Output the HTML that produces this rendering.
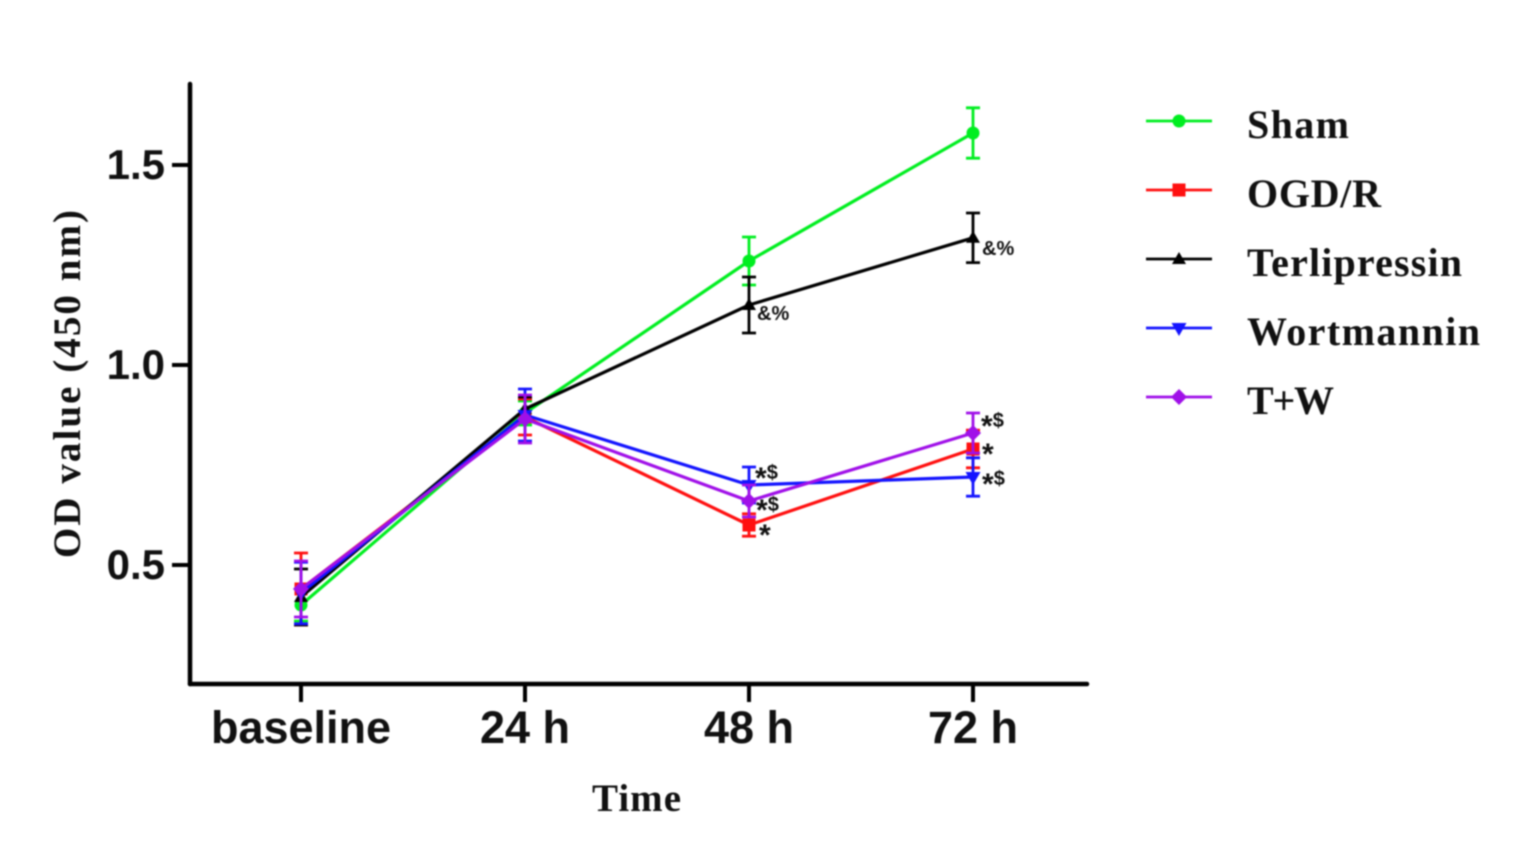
<!DOCTYPE html>
<html lang="en">
<head>
<meta charset="utf-8">
<title>OD value over time</title>
<style>
html,body{margin:0;padding:0;background:#fff;}
body{width:1524px;height:863px;overflow:hidden;}
svg{display:block;filter:blur(0.7px);}
.sans{font-family:"Liberation Sans",sans-serif;font-weight:bold;fill:#111;}
.serif{font-family:"Liberation Serif",serif;font-weight:bold;fill:#111;}
</style>
</head>
<body>
<svg id="chart" width="1524" height="863" viewBox="0 0 1524 863" xmlns="http://www.w3.org/2000/svg">
  <text class="serif" x="592" y="811" font-size="39" textLength="89" lengthAdjust="spacing">Time</text>
  <text class="serif" transform="translate(80,558) rotate(-90)" font-size="39" textLength="348" lengthAdjust="spacing">OD value (450 nm)</text>
  <g id="axes"></g>
  <g id="plot"></g>
  <g id="notes"></g>
  <g id="legend"></g>
</svg>
<script>
const categories = ["baseline", "24 h", "48 h", "72 h"];
const yTicks = [0.5, 1.0, 1.5];
const yTickLabels = ["0.5", "1.0", "1.5"];
const seriesNames = ["Sham", "OGD/R", "Terlipressin", "Wortmannin", "T+W"];

const shamValues = [0.40, 0.88, 1.26, 1.58];
const ogdValues = [0.44, 0.87, 0.60, 0.79];
const terlipressinValues = [0.42, 0.89, 1.15, 1.318];
const wortmanninValues = [0.43, 0.875, 0.70, 0.72];
const twValues = [0.44, 0.865, 0.66, 0.83];

const shamErrors = [0.04, 0.03, 0.06, 0.063];
const ogdErrors = [0.09, 0.045, 0.028, 0.047];
const terlipressinErrors = [0.07, 0.03, 0.07, 0.062];
const wortmanninErrors = [0.077, 0.065, 0.045, 0.048];
const twErrors = [0.07, 0.06, 0.04, 0.05];

const noteSeries = [2, 2, 4, 1, 3, 3, 4, 1];
const noteTimes = [2, 3, 3, 3, 3, 2, 2, 2];
const noteTexts = ["&%", "&%", "*$", "*", "*$", "*$", "*$", "*"];

const NS = "http://www.w3.org/2000/svg";
const colors = ["#00ee20", "#ff1010", "#000000", "#1414ff", "#a010e8"];
const markers = ["circle", "square", "triangle", "down", "diamond"];
const allValues = [shamValues, ogdValues, terlipressinValues, wortmanninValues, twValues];
const allErrors = [shamErrors, ogdErrors, terlipressinErrors, wortmanninErrors, twErrors];

function xAxis(i) { return 301 + i * 224; }
function yAxis(v) { return 765 - 400 * v; }

function make(tag, attrs, parent) {
  const el = document.createElementNS(NS, tag);
  for (const k in attrs) el.setAttribute(k, attrs[k]);
  parent.appendChild(el);
  return el;
}

function drawMarker(kind, x, y, color, parent) {
  let el;
  if (kind === "circle") {
    el = make("circle", {cx: x, cy: y, r: 6.5, fill: color}, parent);
  } else if (kind === "square") {
    el = make("rect", {x: x - 6.5, y: y - 6.5, width: 13, height: 13, fill: color}, parent);
  } else if (kind === "triangle") {
    el = make("polygon", {points: (x - 7) + "," + (y + 5) + " " + (x + 7) + "," + (y + 5) + " " + x + "," + (y - 7), fill: color}, parent);
  } else if (kind === "down") {
    el = make("polygon", {points: (x - 7.5) + "," + (y - 5) + " " + (x + 7.5) + "," + (y - 5) + " " + x + "," + (y + 8), fill: color}, parent);
  } else {
    el = make("polygon", {points: (x - 8) + "," + y + " " + x + "," + (y - 8) + " " + (x + 8) + "," + y + " " + x + "," + (y + 8), fill: color}, parent);
  }
  return el;
}

function drawAxes() {
  const g = document.getElementById("axes");
  const axisStyle = {stroke: "#000", "stroke-width": 4.5, "stroke-linecap": "round", fill: "none"};
  const yLine = make("line", Object.assign({x1: 190, y1: 84, x2: 190, y2: 684}, axisStyle), g);
  
  
  const xLine = make("line", Object.assign({x1: 190, y1: 684, x2: 1087, y2: 684}, axisStyle), g);
  
  

  yTicks.forEach(function (v, i) {
    const t = make("line", {x1: 172, y1: yAxis(v), x2: 190, y2: yAxis(v), stroke: "#000", "stroke-width": 4}, g);
    
    
    const l = make("text", {x: 165, y: yAxis(v) + 14, "text-anchor": "end", "font-size": 42, class: "sans"}, g);
    
    
    l.textContent = yTickLabels[i];
  });

  categories.forEach(function (c, i) {
    const t = make("line", {x1: xAxis(i), y1: 684, x2: xAxis(i), y2: 702, stroke: "#000", "stroke-width": 4}, g);
    
    
    const l = make("text", {x: xAxis(i), y: 743, "text-anchor": "middle", "font-size": 45, class: "sans"}, g);
    
    
    l.textContent = c;
  });
}

function drawSeries() {
  const plot = document.getElementById("plot");
  allValues.forEach(function (values, s) {
    const color = colors[s];
    const g = make("g", {}, plot);
    
    

    values.forEach(function (v, i) {
      const err = allErrors[s][i];
      const x = xAxis(i);
      const top = yAxis(v + err);
      const bottom = yAxis(v - err);
      const bar = make("path", {
        d: "M" + x + " " + top + "V" + bottom + "M" + (x - 7) + " " + top + "H" + (x + 7) + "M" + (x - 7) + " " + bottom + "H" + (x + 7),
        stroke: color, "stroke-width": 2.8, fill: "none"
      }, g);
      
      
    });

    const line = make("polyline", {
      points: values.map(function (v, i) { return xAxis(i) + "," + yAxis(v); }).join(" "),
      stroke: color, "stroke-width": 3.2, fill: "none", "stroke-linejoin": "round"
    }, g);
    
    

    values.forEach(function (v, i) {
      const m = drawMarker(markers[s], xAxis(i), yAxis(v), color, g);
      
      
    });
  });
}

function drawNotes() {
  const g = document.getElementById("notes");
  const shifts = [[8, 15], [9, 17], [8, -6], [9, 6], [9, 8], [6, -6], [7, 10], [10, 11]];
  noteTexts.forEach(function (txt, n) {
    const s = noteSeries[n];
    const i = noteTimes[n];
    const t = make("text", {
      x: xAxis(i) + shifts[n][0],
      y: yAxis(allValues[s][i]) + shifts[n][1],
      "font-size": 20, class: "sans", fill: "#222"
    }, g);
    
    
    if (txt.charAt(0) === "*") {
      const star = make("tspan", {"font-size": 30, dy: 9}, t);
      star.textContent = "*";
      if (txt.length > 1) {
        const rest = make("tspan", {dy: -9}, t);
        rest.textContent = txt.slice(1);
      }
    } else {
      t.textContent = txt;
    }
  });
}

function drawLegend() {
  const g = document.getElementById("legend");
  const widths = [102, 134, 215, 233, 87];
  seriesNames.forEach(function (name, s) {
    const y = 121 + s * 69;
    const e = make("g", {}, g);
    
    
    const l = make("line", {x1: 1146, y1: y, x2: 1212, y2: y, stroke: colors[s], "stroke-width": 2.8}, e);
    
    
    const m = drawMarker(markers[s], 1179, y, colors[s], e);
    
    
    const t = make("text", {x: 1247, y: y + 17, "font-size": 40, class: "serif", textLength: widths[s], lengthAdjust: "spacing"}, e);
    
    
    t.textContent = name;
  });
}

drawAxes();
drawSeries();
drawNotes();
drawLegend();
</script>
</body>
</html>
